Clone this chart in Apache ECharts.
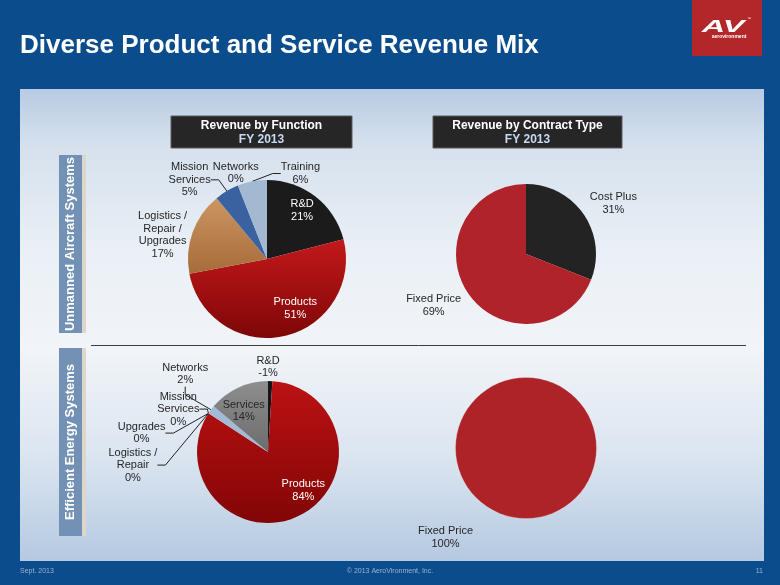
<!DOCTYPE html>
<html><head><meta charset="utf-8">
<script src="https://cdn.jsdelivr.net/npm/echarts/dist/echarts.min.js"></script>
<style>html,body{margin:0;padding:0;background:#0b4c8c}#c{width:780px;height:585px}</style>
</head><body><div id="c"></div>
<script>
// ---------- data ----------
const uasFunctionNames = ['R&D', 'Products', 'Logistics /\nRepair /\nUpgrades', 'Mission\nServices', 'Networks', 'Training'];
const uasFunctionValues = [21, 51, 17, 5, 0, 6];
const eesFunctionNames = ['R&D', 'Products', 'Logistics /\nRepair', 'Upgrades', 'Mission\nServices', 'Networks', 'Services'];
const eesFunctionValues = [-1, 84, 0, 0, 0, 2, 14];
const contractNames = ['Cost Plus', 'Fixed Price'];
const uasContractValues = [31, 69];
const eesContractValues = [0, 100];

// ---------- styles ----------
const FONT = '"Liberation Sans", Arial, sans-serif';
const grad = (a, b) => ({type: 'linear', x: 0, y: 0, x2: 0, y2: 1, colorStops: [{offset: 0, color: a}, {offset: 1, color: b}]});
const uasFunctionColors = ['#1b1b1b', grad('#c4181b', '#7e0707'), grad('#cc9663', '#a66b38'), '#3a62a0', '#6f8fb8', '#a3b9d2'];
const eesFunctionColors = ['#151515', grad('#bc1214', '#820505'), '#b08a5a', '#b08a5a', '#3a62a0', '#a3bad6', grad('#8e8e8e', '#6c6c6c')];
const contractColors = ['#232323', '#b0232a'];

// label placement tweaks (relative to the library's default label centre)
const uasFunctionLabelShift = [[9, -15], [19, 8], [13, 5], [0, -6], [36, -7], [82, -2]];
const eesFunctionLabelShift = [[-27, -8], [18, 4], [-33, 55], [-25, 23], [9, -1], [15, -32], [-8, -6]];
const uasContractLabelShift = [[-12, -8], [11, 9]];
const eesContractLabelShift = [[0, 0], [-40, 13]];

function shiftLayout(shifts) {
  return function (p) {
    const s = shifts[p.dataIndex];
    if (!s) return {};
    const r = p.labelRect;
    return {x: r.x + r.width / 2 + s[0], y: r.y + r.height / 2 + s[1], align: 'center', verticalAlign: 'middle'};
  };
}

const baseLabel = {color: '#262626', fontSize: 11, lineHeight: 12.5, fontFamily: FONT};

function pieSeries(names, values, colors, opts) {
  return {
    type: 'pie',
    center: opts.center,
    radius: opts.radius,
    startAngle: 90,
    clockwise: true,
    avoidLabelOverlap: false,
    animation: false,
    silent: true,
    emphasis: {disabled: true},
    itemStyle: opts.itemStyle || {borderWidth: 0},
    label: Object.assign({show: true, position: 'outside'}, baseLabel, {
      formatter: p => p.name + '\n' + values[p.dataIndex] + '%'
    }),
    labelLine: {show: true, length: 6, length2: 8, lineStyle: {color: '#222', width: 1}},
    labelLayout: shiftLayout(opts.shifts),
    data: names.map((n, i) => {
      const d = {name: n, value: Math.abs(values[i]), itemStyle: {color: colors[i]}};
      const k = opts.kinds[i];
      if (k === 'in') { d.label = {position: 'inside', color: '#fff'}; d.labelLine = {show: false}; }
      else if (k === 'inDark') { d.label = {position: 'inside', color: '#262626'}; d.labelLine = {show: false}; }
      else if (k === 'noLine') { d.labelLine = {show: false}; }
      else if (k === 'hide') { d.label = {show: false}; d.labelLine = {show: false}; }
      return d;
    })
  };
}

const chart = echarts.init(document.getElementById('c'), null, {renderer: 'canvas'});

const graphics = [
  // content panel
  {type: 'rect', shape: {x: 20, y: 89, width: 744, height: 472}, z: -10,
    style: {fill: {type: 'linear', x: 0, y: 0, x2: 0, y2: 1, colorStops: [
      {offset: 0, color: '#b8cbe2'}, {offset: 0.12, color: '#d6e1ed'}, {offset: 0.35, color: '#eaf0f6'},
      {offset: 0.55, color: '#f1f4f8'}, {offset: 0.78, color: '#dbe5f0'}, {offset: 1, color: '#b5c9e1'}]}}},
  // separator line
  {type: 'line', shape: {x1: 91, y1: 345.5, x2: 746, y2: 345.5}, style: {stroke: '#3c3c3c', lineWidth: 1}},
  // side boxes
  {type: 'rect', shape: {x: 82, y: 155, width: 4, height: 178}, style: {fill: '#ddd7cb'}},
  {type: 'rect', shape: {x: 59, y: 155, width: 23, height: 178}, style: {fill: '#7291b4'}},
  {type: 'rect', shape: {x: 82, y: 348, width: 4, height: 188}, style: {fill: '#ddd7cb'}},
  {type: 'rect', shape: {x: 59, y: 348, width: 23, height: 188}, style: {fill: '#7291b4'}},
  {type: 'text', x: 70.5, y: 244, rotation: Math.PI / 2,
    style: {text: 'Unmanned Aircraft Systems', fill: '#fff', font: 'bold 13px ' + FONT, align: 'center', verticalAlign: 'middle'}},
  {type: 'text', x: 70.5, y: 442, rotation: Math.PI / 2,
    style: {text: 'Efficient Energy Systems', fill: '#fff', font: 'bold 13px ' + FONT, align: 'center', verticalAlign: 'middle'}},
  // chart title boxes
  {type: 'rect', shape: {x: 171, y: 116, width: 181, height: 32}, style: {fill: '#262626', stroke: '#5a5a5a', lineWidth: 1}},
  {type: 'text', x: 261.5, y: 125.5, style: {text: 'Revenue by Function', fill: '#fff', font: 'bold 12px ' + FONT, align: 'center', verticalAlign: 'middle'}},
  {type: 'text', x: 261.5, y: 140, style: {text: 'FY 2013', fill: '#c6d9f1', font: 'bold 12px ' + FONT, align: 'center', verticalAlign: 'middle'}},
  {type: 'rect', shape: {x: 433, y: 116, width: 189, height: 32}, style: {fill: '#262626', stroke: '#5a5a5a', lineWidth: 1}},
  {type: 'text', x: 527.5, y: 125.5, style: {text: 'Revenue by Contract Type', fill: '#fff', font: 'bold 12px ' + FONT, align: 'center', verticalAlign: 'middle'}},
  {type: 'text', x: 527.5, y: 140, style: {text: 'FY 2013', fill: '#c6d9f1', font: 'bold 12px ' + FONT, align: 'center', verticalAlign: 'middle'}},
  // slide title
  {type: 'text', x: 20, y: 46, style: {text: 'Diverse Product and Service Revenue Mix', fill: '#fff', font: 'bold 26px ' + FONT, align: 'left', verticalAlign: 'middle'}},
  // logo
  {type: 'rect', shape: {x: 692, y: 0, width: 70, height: 56}, style: {fill: '#b3272b'}},
  {type: 'text', x: 723, y: 27, scaleX: 1.9,
    style: {text: 'AV', fill: '#fff', font: 'italic bold 17px ' + FONT, align: 'center', verticalAlign: 'middle'}},
  {type: 'text', x: 747, y: 19, style: {text: '\u2122', fill: '#fff', font: '4px ' + FONT, align: 'left', verticalAlign: 'middle'}},
  {type: 'text', x: 729, y: 37, style: {text: 'aerovironment', fill: '#fff', font: 'bold 5px ' + FONT, align: 'center', verticalAlign: 'middle'}},
  // footer
  {type: 'text', x: 20, y: 571, style: {text: 'Sept. 2013', fill: '#9db3cf', font: '7px ' + FONT, align: 'left', verticalAlign: 'middle'}},
  {type: 'text', x: 390, y: 571, style: {text: '\u00a9 2013 AeroVironment, Inc.', fill: '#9db3cf', font: '7px ' + FONT, align: 'center', verticalAlign: 'middle'}},
  {type: 'text', x: 763, y: 571, style: {text: '11', fill: '#9db3cf', font: '7px ' + FONT, align: 'right', verticalAlign: 'middle'}}
];

chart.setOption({
  backgroundColor: '#0b4c8c',
  animation: false,
  graphic: {elements: graphics},
  series: [
    pieSeries(uasFunctionNames, uasFunctionValues, uasFunctionColors, {
      center: [267, 259], radius: 79, shifts: uasFunctionLabelShift,
      kinds: ['in', 'in', 'noLine', 'line', 'noLine', 'line']}),
    pieSeries(contractNames, uasContractValues, contractColors, {
      center: [526, 254], radius: 70, shifts: uasContractLabelShift,
      kinds: ['noLine', 'noLine']}),
    pieSeries(eesFunctionNames, eesFunctionValues, eesFunctionColors, {
      center: [268, 452], radius: 71, shifts: eesFunctionLabelShift,
      kinds: ['noLine', 'in', 'line', 'line', 'line', 'line', 'inDark']}),
    pieSeries(contractNames, eesContractValues, ['#232323', '#ae2327'], {
      center: [526, 448], radius: 70.5, shifts: eesContractLabelShift,
      itemStyle: {borderWidth: 0.6, borderColor: 'rgba(255,255,255,0.35)'},
      kinds: ['hide', 'noLine']})
  ]
});
</script>
</body></html>
